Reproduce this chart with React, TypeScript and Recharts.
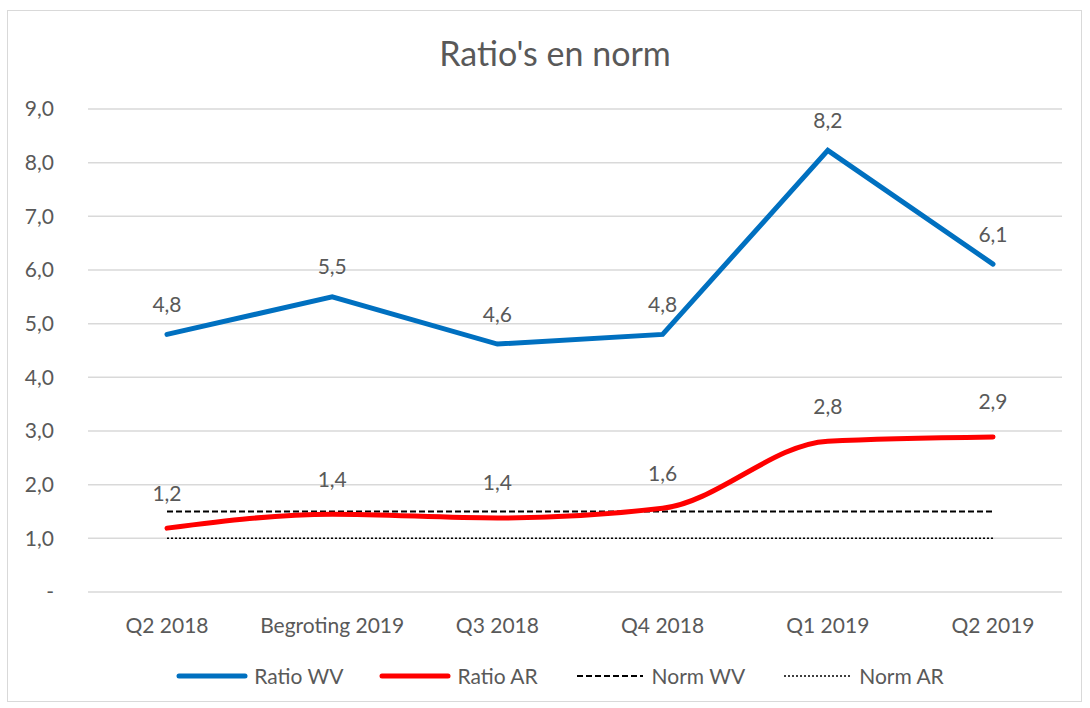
import React from 'react';
import { LineChart, Line, XAxis, YAxis, CartesianGrid, Legend, LabelList } from 'recharts';

const categories = ['Q2 2018', 'Begroting 2019', 'Q3 2018', 'Q4 2018', 'Q1 2019', 'Q2 2019'];
const ratioWV = [4.8, 5.5, 4.62, 4.8, 8.23, 6.11];
const ratioAR = [1.19, 1.45, 1.38, 1.56, 2.81, 2.89];
const normWV = [1.5, 1.5, 1.5, 1.5, 1.5, 1.5];
const normAR = [1.0, 1.0, 1.0, 1.0, 1.0, 1.0];
const yTicks = [0, 1, 2, 3, 4, 5, 6, 7, 8, 9];

const data = categories.map((c, i) => ({
  name: c,
  wv: ratioWV[i],
  ar: ratioAR[i],
  nwv: normWV[i],
  nar: normAR[i],
}));

const FONT = 'Lato, "Open Sans", sans-serif';
const TXT = '#595959';
const FS = 21;

const fmt = (v: number) => (v === 0 ? '-' : v.toFixed(1).replace('.', ','));

const makeLabel = (dy: number) => (props: any) => {
  const { x, y, value } = props;
  return (
    <text x={x} y={y - dy} textAnchor="middle" dominantBaseline="central" fill={TXT} fontSize={FS} fontFamily={FONT}>
      {fmt(Number(value))}
    </text>
  );
};

const legendItems = [
  { label: 'Ratio WV', color: '#0070C0', dash: undefined, w: 5 },
  { label: 'Ratio AR', color: '#FF0000', dash: undefined, w: 5 },
  { label: 'Norm WV', color: '#000000', dash: '6 3', w: 2 },
  { label: 'Norm AR', color: '#000000', dash: '2 2', w: 1.5 },
];

const renderLegend = () => (
  <div style={{ display: 'flex', justifyContent: 'center', gap: 36, fontFamily: FONT, fontSize: FS, color: TXT }}>
    {legendItems.map((it) => (
      <div key={it.label} style={{ display: 'flex', alignItems: 'center' }}>
        <svg width={72} height={12} style={{ marginRight: 6 }}>
          <line x1={3} y1={6} x2={69} y2={6} stroke={it.color} strokeWidth={it.w} strokeDasharray={it.dash} strokeLinecap={it.dash ? 'butt' : 'round'} />
        </svg>
        <span>{it.label}</span>
      </div>
    ))}
  </div>
);

export default function App() {
  return (
    <div style={{ position: 'absolute', left: 0, top: 0, width: 1090, height: 708, background: '#fff' }}>
      <div style={{ position: 'absolute', left: 7, top: 10, width: 1075, height: 692, border: '1.5px solid #D9D9D9', boxSizing: 'border-box' }} />
      <div style={{ position: 'absolute', left: 0, top: 32, width: 1110, textAlign: 'center', fontFamily: FONT, fontSize: 34, color: TXT }}>
        Ratio's en norm
      </div>
      <LineChart width={1090} height={708} data={data} margin={{ top: 109, right: 28, bottom: 80, left: 28 }} style={{ position: 'absolute', left: 0, top: 0 }}>
        <CartesianGrid vertical={false} stroke="#D9D9D9" strokeWidth={1.5} />
        <XAxis dataKey="name" axisLine={false} tickLine={false} padding={{ left: 79, right: 69 }} tick={{ fill: TXT, fontSize: FS, fontFamily: FONT }} tickMargin={20} height={36} />
        <YAxis domain={[0, 9]} ticks={yTicks} interval={0} axisLine={false} tickLine={false} tickFormatter={fmt} tick={{ fill: TXT, fontSize: FS, fontFamily: FONT }} width={60} tickMargin={28} />
        <Legend layout="horizontal" verticalAlign="middle" align="center" content={renderLegend} wrapperStyle={{ top: 663, left: 0, width: 1120 }} />
        <Line dataKey="nwv" stroke="#000" strokeWidth={2} strokeDasharray="6 3" dot={false} isAnimationActive={false} />
        <Line dataKey="nar" stroke="#000" strokeWidth={1.5} strokeDasharray="2 2" dot={false} isAnimationActive={false} />
        <Line dataKey="ar" type="monotone" stroke="#FF0000" strokeWidth={5} dot={false} strokeLinecap="round" isAnimationActive={false}>
          <LabelList dataKey="ar" content={makeLabel(36)} />
        </Line>
        <Line dataKey="wv" type="linear" stroke="#0070C0" strokeWidth={5} dot={false} strokeLinecap="round" isAnimationActive={false}>
          <LabelList dataKey="wv" content={makeLabel(31)} />
        </Line>
      </LineChart>
    </div>
  );
}
